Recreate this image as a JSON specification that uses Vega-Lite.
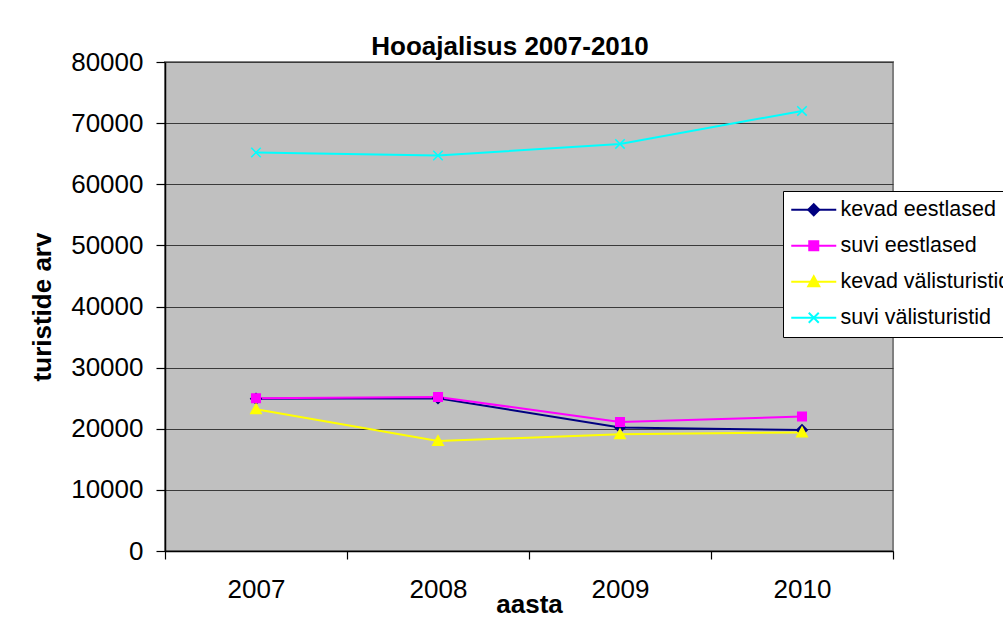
{
  "$schema": "https://vega.github.io/schema/vega-lite/v6.json",
  "width": 728,
  "height": 489,
  "autosize": {"type": "none"},
  "padding": {"left": 165, "top": 62, "right": 110, "bottom": 68},
  "background": "white",
  "title": {
    "text": "Hooajalisus 2007-2010",
    "font": "Liberation Sans",
    "fontSize": 26,
    "fontWeight": "bold",
    "color": "black",
    "anchor": "middle",
    "dx": -19,
    "offset": -11
  },
  "config": {
    "view": {"fill": "#c0c0c0", "stroke": "#808080", "strokeWidth": 2},
    "axis": {
      "labelFont": "Liberation Sans",
      "labelFontSize": 26,
      "labelColor": "black",
      "titleFont": "Liberation Sans",
      "titleFontSize": 26,
      "titleFontWeight": "bold",
      "titleColor": "black",
      "domainColor": "black",
      "domainWidth": 1.5,
      "tickColor": "black",
      "tickWidth": 1.2
    }
  },
  "data": {
    "values": [
      {"aasta": "2007", "series": "kevad eestlased", "value": 24900},
      {"aasta": "2008", "series": "kevad eestlased", "value": 25000},
      {"aasta": "2009", "series": "kevad eestlased", "value": 20200},
      {"aasta": "2010", "series": "kevad eestlased", "value": 19800},
      {"aasta": "2007", "series": "suvi eestlased", "value": 25000},
      {"aasta": "2008", "series": "suvi eestlased", "value": 25200},
      {"aasta": "2009", "series": "suvi eestlased", "value": 21100},
      {"aasta": "2010", "series": "suvi eestlased", "value": 22000},
      {"aasta": "2007", "series": "kevad välisturistid", "value": 23200},
      {"aasta": "2008", "series": "kevad välisturistid", "value": 18000},
      {"aasta": "2009", "series": "kevad välisturistid", "value": 19100},
      {"aasta": "2010", "series": "kevad välisturistid", "value": 19400},
      {"aasta": "2007", "series": "suvi välisturistid", "value": 65200},
      {"aasta": "2008", "series": "suvi välisturistid", "value": 64700},
      {"aasta": "2009", "series": "suvi välisturistid", "value": 66600},
      {"aasta": "2010", "series": "suvi välisturistid", "value": 72000}
    ]
  },
  "encoding": {
    "x": {
      "field": "aasta",
      "type": "ordinal",
      "scale": {"type": "band", "paddingInner": 0, "paddingOuter": 0},
      "axis": {
        "title": "aasta",
        "labelAngle": 0,
        "grid": false,
        "tickBand": "extent",
        "tickSize": 8,
        "labelPadding": 17,
        "titlePadding": -11
      }
    },
    "y": {
      "field": "value",
      "type": "quantitative",
      "scale": {"domain": [0, 80000], "nice": false},
      "axis": {
        "title": "turistide arv",
        "values": [0, 10000, 20000, 30000, 40000, 50000, 60000, 70000, 80000],
        "format": "d",
        "grid": true,
        "gridColor": "#3a3a3a",
        "gridWidth": 1,
        "tickSize": 9,
        "labelPadding": 13,
        "titlePadding": 15
      }
    }
  },
  "layer": [
    {
      "mark": {"type": "line", "strokeWidth": 2},
      "encoding": {
        "color": {
          "field": "series",
          "type": "nominal",
          "scale": {
            "domain": ["kevad eestlased", "suvi eestlased", "kevad välisturistid", "suvi välisturistid"],
            "range": ["#000080", "#ff00ff", "#ffff00", "#00ffff"]
          },
          "legend": {
            "title": null,
            "orient": "none",
            "legendX": 618,
            "legendY": 129,
            "fillColor": "white",
            "strokeColor": "black",
            "padding": 8,
            "symbolType": "M-4.5,0L4.5,0",
            "symbolSize": 100,
            "symbolStrokeWidth": 2,
            "symbolOffset": 12,
            "labelOffset": 16,
            "rowPadding": 13,
            "labelFont": "Liberation Sans",
            "labelFontSize": 21.5,
            "labelColor": "black",
            "labelLimit": 400
          }
        }
      }
    },
    {
      "mark": {"type": "point", "filled": true, "size": 90, "opacity": 1, "strokeWidth": 1.5},
      "encoding": {
        "fill": {
          "field": "series",
          "type": "nominal",
          "sort": null,
          "scale": {"range": ["#000080", "#ff00ff", "#ffff00", "#00ffff"]},
          "legend": {
            "title": null,
            "orient": "none",
            "legendX": 618,
            "legendY": 129,
            "padding": 8,
            "symbolSize": 100,
            "symbolStrokeWidth": 2,
            "symbolOffset": 12,
            "labelOffset": 16,
            "rowPadding": 13,
            "labelFont": "Liberation Sans",
            "labelFontSize": 21.5,
            "labelColor": "transparent",
            "labelLimit": 400
          }
        },
        "stroke": {
          "field": "series",
          "type": "nominal",
          "sort": null,
          "scale": {"range": ["#000080", "#ff00ff", "#ffff00", "#00ffff"]},
          "legend": {
            "title": null,
            "orient": "none",
            "legendX": 618,
            "legendY": 129,
            "padding": 8,
            "symbolSize": 100,
            "symbolStrokeWidth": 2,
            "symbolOffset": 12,
            "labelOffset": 16,
            "rowPadding": 13,
            "labelFont": "Liberation Sans",
            "labelFontSize": 21.5,
            "labelColor": "transparent",
            "labelLimit": 400
          }
        },
        "shape": {
          "field": "series",
          "type": "nominal",
          "sort": null,
          "scale": {
            "range": ["M0,-1.1L1.1,0L0,1.1L-1.1,0Z", "M-0.9,-0.9L0.9,-0.9L0.9,0.9L-0.9,0.9Z", "M0,-1.1L1.1,0.9L-1.1,0.9Z", "M-1,-1L1,1M1,-1L-1,1"]
          },
          "legend": {
            "title": null,
            "orient": "none",
            "legendX": 618,
            "legendY": 129,
            "padding": 8,
            "symbolSize": 100,
            "symbolStrokeWidth": 2,
            "symbolOffset": 12,
            "labelOffset": 16,
            "rowPadding": 13,
            "labelFont": "Liberation Sans",
            "labelFontSize": 21.5,
            "labelColor": "transparent",
            "labelLimit": 400
          }
        }
      }
    }
  ]
}
